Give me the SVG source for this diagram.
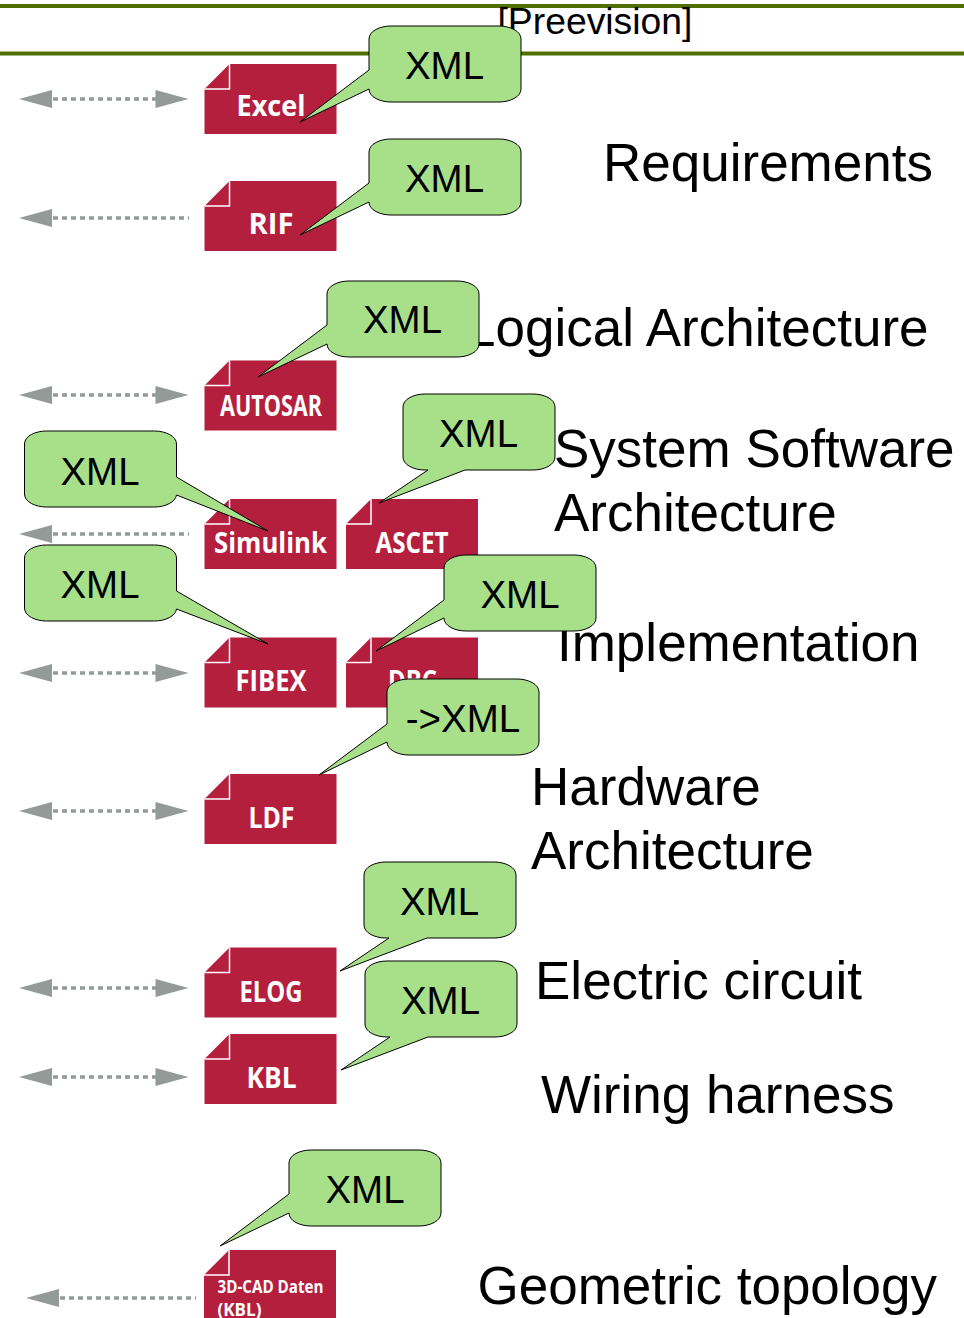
<svg xmlns="http://www.w3.org/2000/svg" xmlns:xlink="http://www.w3.org/1999/xlink" width="964" height="1318" viewBox="0 0 964 1318">
<style>
text{font-family:"Liberation Sans",Arial,sans-serif;fill:#000}
.band{stroke:#4f7000;stroke-width:4;fill:none}
.big{font-size:53px}
.pre{font-size:37.300px}
.xml{font-size:38.500px;text-anchor:middle}
.doc{fill:#b41f3e}
.fold{fill:none;stroke:#fff;stroke-width:1.500}
.lbl{font-family:"Open Sans","Noto Sans",sans-serif;font-weight:700;font-size:29px;fill:#fff}
.lbl2{font-family:"Open Sans","Noto Sans",sans-serif;font-weight:700;font-size:18px;fill:#fff}
.call{fill:#a8e08a;stroke:#000;stroke-width:1}
.dots{stroke:#949a98;stroke-width:3.500;stroke-dasharray:5 4;fill:none}
.head{fill:#949a98}
</style>
<defs>
<g id="page">
<path class="doc" d="M0 25L25 0H132V70H0Z"/>
<path class="fold" d="M25 0V25H0"/>
</g>
<path id="lh" class="head" d="M0 0L33-9V9Z"/>
<path id="rh" class="head" d="M0 0L-33-9V9Z"/>
</defs>

<path class="band" d="M0 6H964M0 53.500H964"/>
<text class="pre" x="497.500" y="34">[Preevision]</text>
<g id="labels">
<text class="big" x="603" y="181">Requirements</text>
<text class="big" x="466" y="346">Logical Architecture</text>
<text class="big" x="554" y="467">System Software</text>
<text class="big" x="554" y="531">Architecture</text>
<text class="big" x="557" y="661">Implementation</text>
<text class="big" x="531" y="805">Hardware</text>
<text class="big" x="531" y="869">Architecture</text>
<text class="big" x="535" y="999">Electric circuit</text>
<text class="big" x="541" y="1112.500">Wiring harness</text>
<text class="big" x="477.500" y="1304">Geometric topology</text>
</g>

<g id="connectors">
<path class="dots" d="M53 99H156M53 218H189M53 395H156M53 534H189M53 673H156M53 811H156M53 988H156M53 1077H156M60 1298H196"/>
<use xlink:href="#lh" href="#lh" x="19" y="99"/><use xlink:href="#rh" href="#rh" x="188.500" y="99"/>
<use xlink:href="#lh" href="#lh" x="19" y="218"/>
<use xlink:href="#lh" href="#lh" x="19" y="395"/><use xlink:href="#rh" href="#rh" x="188.500" y="395"/>
<use xlink:href="#lh" href="#lh" x="19" y="534"/>
<use xlink:href="#lh" href="#lh" x="19" y="673"/><use xlink:href="#rh" href="#rh" x="188.500" y="673"/>
<use xlink:href="#lh" href="#lh" x="19" y="811"/><use xlink:href="#rh" href="#rh" x="188.500" y="811"/>
<use xlink:href="#lh" href="#lh" x="19" y="988"/><use xlink:href="#rh" href="#rh" x="188.500" y="988"/>
<use xlink:href="#lh" href="#lh" x="19" y="1077"/><use xlink:href="#rh" href="#rh" x="188.500" y="1077"/>
<use xlink:href="#lh" href="#lh" x="26" y="1298"/>
</g>

<g id="node-excel"><use xlink:href="#page" href="#page" x="204.500" y="64"/><text class="lbl" x="236.500" y="116" textLength="69" lengthAdjust="spacingAndGlyphs">Excel</text></g>
<g id="node-rif"><use xlink:href="#page" href="#page" x="204.500" y="181"/><text class="lbl" x="248.500" y="234" textLength="45" lengthAdjust="spacingAndGlyphs">RIF</text></g>
<g id="node-autosar"><use xlink:href="#page" href="#page" x="204.500" y="360.500"/><text class="lbl" x="220" y="416" textLength="102" lengthAdjust="spacingAndGlyphs">AUTOSAR</text></g>
<g id="node-simulink"><use xlink:href="#page" href="#page" x="204.500" y="499"/><text class="lbl" x="214" y="553" textLength="113" lengthAdjust="spacingAndGlyphs">Simulink</text></g>
<g id="node-ascet"><use xlink:href="#page" href="#page" x="346" y="499"/><text class="lbl" x="375.500" y="553" textLength="73" lengthAdjust="spacingAndGlyphs">ASCET</text></g>
<g id="node-fibex"><use xlink:href="#page" href="#page" x="204.500" y="637.500"/><text class="lbl" x="235.500" y="691" textLength="71" lengthAdjust="spacingAndGlyphs">FIBEX</text></g>
<g id="node-dbc"><use xlink:href="#page" href="#page" x="346" y="637.500"/><text class="lbl" x="388" y="691" textLength="49" lengthAdjust="spacingAndGlyphs">DBC</text></g>
<g id="node-ldf"><use xlink:href="#page" href="#page" x="204.500" y="774"/><text class="lbl" x="248.500" y="828" textLength="46" lengthAdjust="spacingAndGlyphs">LDF</text></g>
<g id="node-elog"><use xlink:href="#page" href="#page" x="204.500" y="947.500"/><text class="lbl" x="239.500" y="1001.500" textLength="63" lengthAdjust="spacingAndGlyphs">ELOG</text></g>
<g id="node-kbl"><use xlink:href="#page" href="#page" x="204.500" y="1034"/><text class="lbl" x="246.500" y="1088" textLength="50" lengthAdjust="spacingAndGlyphs">KBL</text></g>
<g id="node-3dcad"><use xlink:href="#page" href="#page" x="204" y="1250"/><text class="lbl2" x="217.500" y="1293" textLength="106" lengthAdjust="spacingAndGlyphs">3D-CAD Daten</text><text class="lbl2" x="217.500" y="1316" textLength="44" lengthAdjust="spacingAndGlyphs">(KBL)</text></g>

<g id="callout-excel"><path class="call" d="M369 39c0-8 11-13 22-13h108c11 0 22 5 22 13v50c0 8-11 13-22 13h-108c-11 0-22-5-22-13L300 122L369 70Z"/><text class="xml" x="444.500" y="79">XML</text></g>
<g id="callout-rif"><path class="call" d="M369 152c0-8 11-13 22-13h108c11 0 22 5 22 13v50c0 8-11 13-22 13h-108c-11 0-22-5-22-13L300 235L369 183Z"/><text class="xml" x="444.500" y="192">XML</text></g>
<g id="callout-autosar"><path class="call" d="M327 294c0-8 11-13 22-13h108c11 0 22 5 22 13v50c0 8-11 13-22 13h-108c-11 0-22-5-22-13L258 377L327 325Z"/><text class="xml" x="402.500" y="333">XML</text></g>
<g id="callout-simulink"><path class="call" d="M24.500 444c0-8 11-13 22-13h108c11 0 22 5 22 13v33L268 531L176.500 495c-1 7-11 12-22 12h-108c-11 0-22-5-22-13Z"/><text class="xml" x="100" y="484.500">XML</text></g>
<g id="callout-fibex"><path class="call" d="M24.500 558c0-8 11-13 22-13h108c11 0 22 5 22 13v33L268 644L176.500 609c-1 7-11 12-22 12h-108c-11 0-22-5-22-13Z"/><text class="xml" x="100" y="598">XML</text></g>
<g id="callout-ascet"><path class="call" d="M403 407c0-8 11-13 22-13h108c11 0 22 5 22 13v50c0 8-11 13-22 13H465L379 503L428 470H425c-11 0-22-5-22-13Z"/><text class="xml" x="478.500" y="446.500">XML</text></g>
<g id="callout-dbc"><path class="call" d="M444 568c0-8 11-13 22-13h108c11 0 22 5 22 13v50c0 8-11 13-22 13h-108c-11 0-22-5-22-13L376 651L444 600Z"/><text class="xml" x="520" y="608">XML</text></g>
<g id="callout-ldf"><path class="call" d="M387 692c0-8 11-13 22-13h108c11 0 22 5 22 13v50c0 8-11 13-22 13h-108c-11 0-22-5-22-13L319 775L387 724Z"/><text class="xml" x="463" y="732">-&gt;XML</text></g>
<g id="callout-elog"><path class="call" d="M364 875c0-8 11-13 22-13h108c11 0 22 5 22 13v50c0 8-11 13-22 13H427L340 971L389 938H386c-11 0-22-5-22-13Z"/><text class="xml" x="439.500" y="915">XML</text></g>
<g id="callout-kbl"><path class="call" d="M365 974c0-8 11-13 22-13h108c11 0 22 5 22 13v50c0 8-11 13-22 13H428L341 1070L390 1037H387c-11 0-22-5-22-13Z"/><text class="xml" x="440.500" y="1014">XML</text></g>
<g id="callout-3dcad"><path class="call" d="M289 1163c0-8 11-13 22-13h108c11 0 22 5 22 13v50c0 8-11 13-22 13h-108c-11 0-22-5-22-13L220 1246L289 1194Z"/><text class="xml" x="365" y="1203">XML</text></g>
</svg>
